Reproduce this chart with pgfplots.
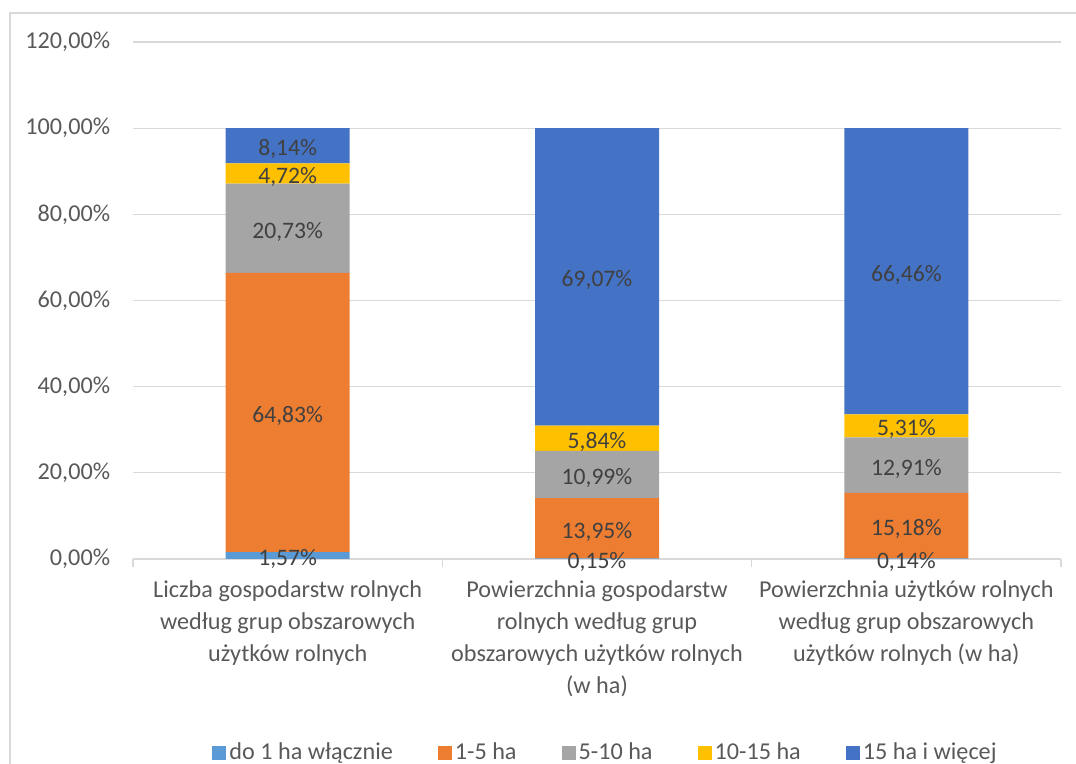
\documentclass[border=0pt]{standalone}
\usepackage{pgfplots}
\pgfplotsset{compat=1.18}
\usepackage{pgfplotstable}
\usepackage{fontspec}
\setmainfont{Carlito}
\definecolor{cA}{HTML}{5B9BD5}
\definecolor{cB}{HTML}{ED7D31}
\definecolor{cC}{HTML}{A5A5A5}
\definecolor{cD}{HTML}{FFC000}
\definecolor{cE}{HTML}{4472C4}
\definecolor{gridc}{HTML}{D9D9D9}
\definecolor{tickc}{HTML}{595959}
\definecolor{labc}{HTML}{404040}
\pgfplotstableread{
x v
0 1.57
1 0.15
2 0.14
}\dA
\pgfplotstableread{
x v
0 64.83
1 13.95
2 15.18
}\dB
\pgfplotstableread{
x v
0 20.73
1 10.99
2 12.91
}\dC
\pgfplotstableread{
x v
0 4.72
1 5.84
2 5.31
}\dD
\pgfplotstableread{
x v
0 8.14
1 69.07
2 66.46
}\dE
\newcommand{\chf}{\fontsize{12.1pt}{16pt}\selectfont}
\newcommand{\dlf}{\fontsize{11.8pt}{14pt}\selectfont}
\begin{document}
\begin{tikzpicture}
\draw[gridc, line width=0.65pt] (5pt,-2pt) -- (5pt,375.5pt) -- (545pt,375.5pt);
\begin{axis}[
  at={(66.5pt,102.5pt)}, anchor=south west,
  scale only axis, width=464pt, height=258.5pt,
  xmin=-0.5, xmax=2.5, ymin=0, ymax=120,
  ybar stacked, bar width=62pt,
  axis x line*=bottom, axis y line*=left,
  y axis line style={draw=none},
  x axis line style={gridc, line width=0.65pt},
  ytick={0,20,40,60,80,100,120},
  yticklabels={{0,00\%},{20,00\%},{40,00\%},{60,00\%},{80,00\%},{100,00\%},{120,00\%}},
  ytick style={draw=none},
  yticklabel style={font=\chf, text=tickc, inner sep=0pt, xshift=-7pt, anchor=east},
  ymajorgrids, grid style={gridc, line width=0.65pt},
  xtick={0,1,2},
  xticklabels={{Liczba gospodarstw rolnych\\według grup obszarowych\\użytków rolnych},
               {Powierzchnia gospodarstw\\rolnych według grup\\obszarowych użytków rolnych\\(w ha)},
               {Powierzchnia użytków rolnych\\według grup obszarowych\\użytków rolnych (w ha)}},
  xticklabel style={font=\chf, text=tickc, align=center, anchor=north, inner sep=0pt, yshift=-6.5pt},
  major x tick style={draw=none},
  minor xtick={-0.5,0.5,1.5,2.5},
  minor x tick style={gridc, line width=0.65pt},
  tick align=outside, minor tick length=4pt,
  point meta=explicit,
  nodes near coords={\pgfmathprintnumber[fixed,fixed zerofill,precision=2,use comma,assume math mode=true]{\pgfplotspointmeta}\%},
  every node near coord/.append style={anchor=center, font=\dlf, text=labc, inner sep=0pt, yshift=-1.7pt},
  legend columns=5,
  legend cell align=left,
  legend image code/.code={\fill[#1] (0pt,-3.5pt) rectangle (7pt,3.5pt);},
  legend style={draw=none, fill=none, at={(0.5097,-0.375)}, anchor=center, font=\chf, text=tickc,
     nodes={inner xsep=1.5pt},
     /tikz/every even column/.append style={column sep=21pt}},
]
\addplot+[fill=cA, draw=none] table[x=x,y=v,meta=v] {\dA};
\addplot+[fill=cB, draw=none] table[x=x,y=v,meta=v] {\dB};
\addplot+[fill=cC, draw=none] table[x=x,y=v,meta=v] {\dC};
\addplot+[fill=cD, draw=none] table[x=x,y=v,meta=v] {\dD};
\addplot+[fill=cE, draw=none] table[x=x,y=v,meta=v] {\dE};
\legend{do 1 ha włącznie, 1-5 ha, 5-10 ha, 10-15 ha, 15 ha i więcej}
\end{axis}
\pgfresetboundingbox
\path[use as bounding box] (0,0) rectangle (538pt,382pt);
\end{tikzpicture}
\end{document}
